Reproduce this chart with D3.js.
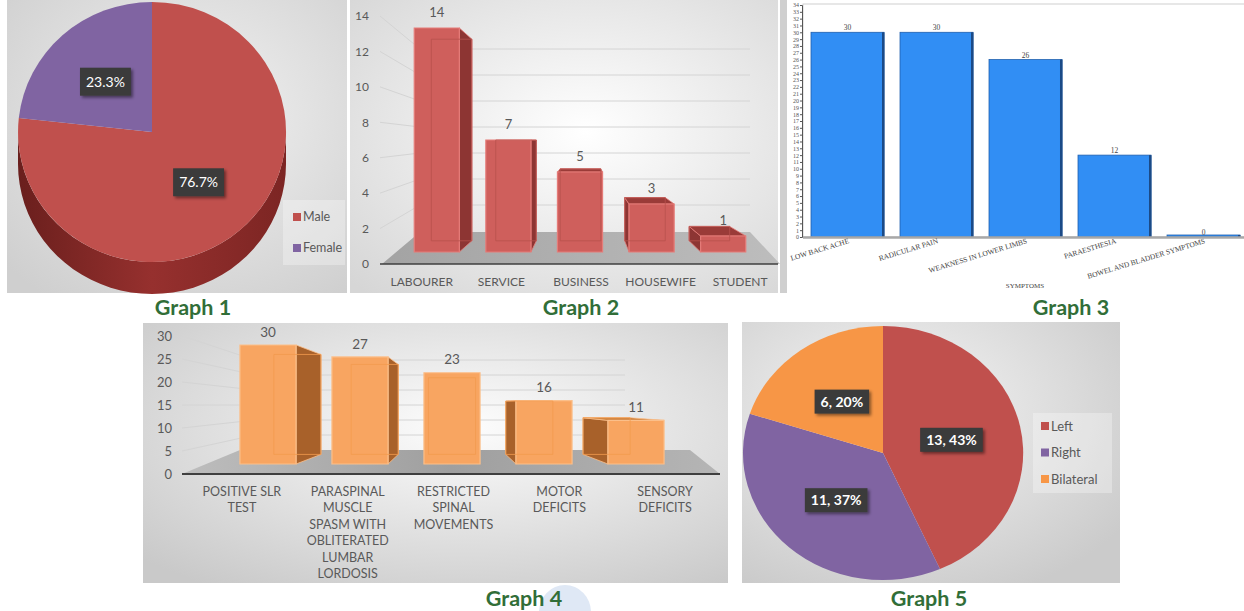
<!DOCTYPE html>
<html>
<head>
<meta charset="utf-8">
<script src="https://cdn.jsdelivr.net/npm/d3@7"></script>
<style>
    body { margin: 0; background: #fff; }
    svg { display: block; }
</style>
</head>
<body>
<script>
// graph 1 - sex
var sexLabels = ['Male', 'Female'],
    sexPercents = [76.7, 23.3];

// graph 2 - occupation
var occupations = ['LABOURER', 'SERVICE', 'BUSINESS', 'HOUSEWIFE', 'STUDENT'],
    occupationCounts = [14, 7, 5, 3, 1],
    occupationTicks = [0, 2, 4, 6, 8, 10, 12, 14];

// graph 3 - symptoms
var symptoms = ['LOW BACK ACHE', 'RADICULAR PAIN', 'WEAKNESS IN LOWER LIMBS', 'PARAESTHESIA', 'BOWEL AND BLADDER SYMPTOMS'],
    symptomCounts = [30, 30, 26, 12, 0],
    symptomTicks = [0, 1, 2, 3, 4, 5, 6, 7, 8, 9, 10, 11, 12, 13, 14, 15, 16, 17, 18, 19, 20,
                    21, 22, 23, 24, 25, 26, 27, 28, 29, 30, 31, 32, 33, 34];

// graph 4 - signs
var signs = ['POSITIVE SLR TEST', 'PARASPINAL MUSCLE SPASM WITH OBLITERATED LUMBAR LORDOSIS',
             'RESTRICTED SPINAL MOVEMENTS', 'MOTOR DEFICITS', 'SENSORY DEFICITS'],
    signLines = [['POSITIVE SLR', 'TEST'],
                 ['PARASPINAL', 'MUSCLE', 'SPASM WITH', 'OBLITERATED', 'LUMBAR', 'LORDOSIS'],
                 ['RESTRICTED', 'SPINAL', 'MOVEMENTS'],
                 ['MOTOR', 'DEFICITS'],
                 ['SENSORY', 'DEFICITS']],
    signCounts = [30, 27, 23, 16, 11],
    signTicks = [0, 5, 10, 15, 20, 25, 30];

// graph 5 - side
var sides = ['Left', 'Right', 'Bilateral'],
    sideCounts = [13, 11, 6],
    sidePercents = [43, 37, 20];

var FONT = 'Lato, "Open Sans", sans-serif',
    SERIF = '"Liberation Serif", "DejaVu Serif", serif',
    GREY = '#595959';

var svg = d3.select('body').append('svg').attr('width', 1244).attr('height', 611),
    defs = svg.append('defs');

function radial(id, cx, cy, inner, outer) {
    var g = defs.append('radialGradient').attr('id', id)
        .attr('cx', cx).attr('cy', cy).attr('r', '75%');
    g.append('stop').attr('offset', '0%').attr('stop-color', inner);
    g.append('stop').attr('offset', '100%').attr('stop-color', outer);
}
function linear(id, stops, x2, y2) {
    var g = defs.append('linearGradient').attr('id', id)
        .attr('x1', 0).attr('y1', 0).attr('x2', x2).attr('y2', y2);
    stops.forEach(function(s, i) {
        g.append('stop').attr('offset', (100*i/(stops.length-1))+'%').attr('stop-color', s);
    });
}
radial('bg1', '55%', '40%', '#f2f2f2', '#cfcfcf');
radial('bg2', '55%', '45%', '#ffffff', '#d6d6d6');
radial('bg4', '55%', '40%', '#fdfdfd', '#c9c9c9');
radial('bg5', '40%', '35%', '#f6f6f6', '#cbcbcb');
linear('side1', ['#6a1f1d', '#96302e', '#7c2523'], 1, 0);
linear('floor2', ['#a3a3a3', '#bdbdbd'], 1, 0);
linear('floor4', ['#bdbdbd', '#9f9f9f', '#b5b5b5'], 1, 0);

var shadow = defs.append('filter').attr('id', 'shadow')
    .attr('x', '-20%').attr('y', '-30%').attr('width', '150%').attr('height', '180%');
shadow.append('feDropShadow').attr('dx', 2).attr('dy', 2).attr('stdDeviation', 1.5)
    .attr('flood-color', '#000').attr('flood-opacity', 0.45);

// panel backgrounds
svg.append('rect').attr('x', 7).attr('y', 0).attr('width', 340).attr('height', 293).attr('fill', 'url(#bg1)');
svg.append('rect').attr('x', 350).attr('y', 0).attr('width', 428).attr('height', 293).attr('fill', 'url(#bg2)');
svg.append('rect').attr('x', 780).attr('y', 0).attr('width', 7).attr('height', 293).attr('fill', '#cfcfcf');
svg.append('rect').attr('x', 143).attr('y', 323).attr('width', 585).attr('height', 260).attr('fill', 'url(#bg4)');
svg.append('rect').attr('x', 742).attr('y', 322).attr('width', 378).attr('height', 261).attr('fill', 'url(#bg5)');
svg.append('ellipse').attr('cx', 565).attr('cy', 612).attr('rx', 26).attr('ry', 27).attr('fill', '#dfe8f5');

function caption(txt, x, y) {
    svg.append('text').attr('x', x).attr('y', y).attr('text-anchor', 'middle')
        .attr('font-family', FONT).attr('font-weight', 700).attr('font-size', 21.5)
        .attr('fill', '#316e38').text(txt);
}
caption('Graph 1', 193, 315);
caption('Graph 2', 581, 315);
caption('Graph 3', 1071, 315);
caption('Graph 4', 524, 606);
caption('Graph 5', 929, 606);

function darkLabel(g, x, y, txt, size, weight, h) {
    var lg = g.append('g').attr('transform', 'translate('+x+','+y+')'),
        r = lg.append('rect'),
        t = lg.append('text').attr('text-anchor', 'middle').attr('dy', '0.35em')
            .attr('font-family', FONT).attr('font-size', size).attr('font-weight', weight)
            .attr('fill', '#fff').text(txt),
        w = t.node().getComputedTextLength();
    r.attr('x', -w/2-6).attr('y', -h/2).attr('width', w+12).attr('height', h)
        .attr('fill', '#3a3a3a').attr('filter', 'url(#shadow)');
}

function legend(g, labels, color, x, y, gap, size, box) {
    g.append('rect').attr('x', box[0]).attr('y', box[1]).attr('width', box[2]).attr('height', box[3])
        .attr('fill', '#fff').attr('fill-opacity', 0.3);
    var items = g.selectAll('g.leg').data(labels).enter().append('g')
        .attr('transform', function(d, i) { return 'translate('+x+','+(y+i*gap)+')'; });
    items.append('rect').attr('x', 0).attr('y', -4).attr('width', 8).attr('height', 8)
        .attr('fill', function(d) { return color(d); });
    items.append('text').attr('x', 10).attr('dy', '0.35em')
        .attr('font-family', FONT).attr('font-size', size).attr('fill', GREY)
        .text(function(d) { return d; });
}

function ellipsePoint(c, a, f) {
    return [c.x + f*c.rx*Math.sin(a), c.y - f*c.ry*Math.cos(a)];
}

// ---------- graph 1: 3d pie ----------
(function() {
    var g = svg.append('g'),
        c = {x: 152, y: 132, rx: 134, ry: 130, depth: 32},
        color = d3.scaleOrdinal().domain(sexLabels).range(['#c0504d', '#8064a2']),
        arcs = d3.pie().sort(null).value(function(d) { return d; })(sexPercents),
        arc = d3.arc().innerRadius(0).outerRadius(1),
        sidePath = function(a0, a1) {
            var s = Math.max(a0, Math.PI/2),
                e = Math.min(a1, 3*Math.PI/2),
                top, bottom;
            if (e <= s) { return null; }
            top = d3.range(41).map(function(i) { return ellipsePoint(c, s+(e-s)*i/40, 1); });
            bottom = top.map(function(p) { return [p[0], p[1]+c.depth]; }).reverse();
            return 'M'+top.concat(bottom).map(function(p) { return p.join(','); }).join('L')+'Z';
        };

    g.selectAll('path.side').data(arcs).enter().append('path')
        .attr('d', function(d) { return sidePath(d.startAngle, d.endAngle); })
        .attr('fill', function(d, i) { return i === 0 ? 'url(#side1)' : '#4f3d66'; });

    g.append('g').attr('transform', 'translate('+c.x+','+c.y+') scale('+c.rx+','+c.ry+')')
        .selectAll('path').data(arcs).enter().append('path')
        .attr('d', arc)
        .attr('fill', function(d, i) { return color(sexLabels[i]); });

    arcs.forEach(function(d, i) {
        var p = ellipsePoint(c, (d.startAngle+d.endAngle)/2, 0.52);
        darkLabel(g, p[0], p[1], sexPercents[i]+'%', 14, 400, 28);
    });

    legend(g, sexLabels, color, 293, 217, 31, 12.5, [283, 200, 62, 65]);
})();

// ---------- 3d column helper ----------
function bars3d(g, o) {
    var bw = o.x.bandwidth(),
        proj = function(p) { return [p[0]+(o.vp[0]-p[0])*o.t, p[1]+(o.vp[1]-p[1])*o.t]; },
        poly = function(pts) { return 'M'+pts.map(function(p) { return p.join(','); }).join('L')+'Z'; },
        data = o.values.map(function(v, i) { return {cat: o.cats[i], value: v}; });

    g.selectAll('g.bar').data(data).enter().append('g').attr('class', 'bar')
        .each(function(d) {
            var b = d3.select(this),
                x0 = o.x(d.cat),
                x1 = x0+bw,
                yt = o.y(d.value),
                yb = o.y(0),
                f = [[x0, yt], [x1, yt], [x1, yb], [x0, yb]],
                k = f.map(proj);

            if (x1 < o.vp[0]) {
                b.append('path').attr('d', poly([f[1], k[1], k[2], f[2]]))
                    .attr('fill', o.side).attr('stroke', o.edge).attr('stroke-width', 0.8);
            } else if (x0 > o.vp[0]) {
                b.append('path').attr('d', poly([f[0], k[0], k[3], f[3]]))
                    .attr('fill', o.side).attr('stroke', o.edge).attr('stroke-width', 0.8);
            }
            if (yt > o.vp[1]) {
                b.append('path').attr('d', poly([f[0], f[1], k[1], k[0]]))
                    .attr('fill', o.top).attr('stroke', o.edge).attr('stroke-width', 0.8);
            }
            b.append('path').attr('d', poly(f))
                .attr('fill', o.front).attr('stroke', o.edge).attr('stroke-width', 1.2);
            // back edges showing through the transparent face
            b.append('path').attr('d', poly(k))
                .attr('fill', 'none').attr('stroke', o.inner).attr('stroke-width', 0.8);
        });

    g.selectAll('text.value').data(data).enter().append('text')
        .attr('x', function(d) { return o.x(d.cat)+bw/2; })
        .attr('y', function(d) { return o.y(d.value)-o.labelGap; })
        .attr('text-anchor', 'middle').attr('dy', '0.35em')
        .attr('font-family', FONT).attr('font-size', o.fontSize).attr('fill', GREY)
        .text(function(d) { return d.value; });
}

function wallLines(g, ticks, yAxis, yWall, xa, xb, xc) {
    g.selectAll('path.grid').data(ticks.slice(1)).enter().append('path')
        .attr('d', function(v) { return 'M'+xa+','+yAxis(v)+'L'+xb+','+yWall(v)+'L'+xc+','+yWall(v); })
        .attr('fill', 'none').attr('stroke', '#d4d4d4').attr('stroke-width', 1);
}

// ---------- graph 2: occupation ----------
(function() {
    var g = svg.append('g'),
        x = d3.scaleBand().domain(occupations).range([401, 759]).paddingInner(0.37).paddingOuter(0.185),
        xLabel = d3.scaleBand().domain(occupations).range([382, 780]),
        yFront = d3.scaleLinear().domain([0, 14]).range([252, 28]),
        yAxis = d3.scaleLinear().domain([0, 14]).range([264, 16]),
        yWall = d3.scaleLinear().domain([0, 14]).range([231, 49]);

    wallLines(g, occupationTicks, yAxis, yWall, 380, 420, 750);

    g.append('path').attr('d', 'M420,232L750,232L780,264L382,264Z').attr('fill', 'url(#floor2)');
    g.append('line').attr('x1', 380).attr('x2', 778).attr('y1', yAxis(0)).attr('y2', yAxis(0))
        .attr('stroke', '#3f3f3f').attr('stroke-width', 1.5);

    bars3d(g, {
        cats: occupations, values: occupationCounts, x: x, y: yFront,
        vp: [585, 140], t: 0.1,
        front: '#cf5f5c', side: '#8d3533', top: '#9a3b38', edge: '#e57c79', inner: '#b8504d',
        labelGap: 16, fontSize: 13
    });

    var ya = g.append('g').attr('transform', 'translate(372,0)')
        .call(d3.axisLeft(yAxis).tickValues(occupationTicks).tickSize(0).tickPadding(3));
    ya.select('.domain').remove();
    ya.attr('font-family', FONT).attr('font-size', 12).attr('color', GREY);

    var xa = g.append('g').attr('transform', 'translate(0,'+yAxis(0)+')')
        .call(d3.axisBottom(xLabel).tickSize(0).tickPadding(13));
    xa.select('.domain').remove();
    xa.attr('font-family', FONT).attr('font-size', 12).attr('color', GREY);
})();

// ---------- graph 3: symptoms ----------
(function() {
    var g = svg.append('g'),
        x = d3.scaleBand().domain(symptoms).range([803, 1248]).paddingInner(0.18).paddingOuter(0.09),
        y = d3.scaleLinear().domain([0, 34]).range([237, 5]),
        bw = x.bandwidth(),
        data = symptomCounts.map(function(v, i) { return {cat: symptoms[i], value: v}; });

    g.append('rect').attr('x', 803).attr('y', 4).attr('width', 450).attr('height', 233)
        .attr('fill', '#fff').attr('stroke', '#d0d0d0').attr('stroke-width', 1);

    var bars = g.selectAll('g.bar').data(data).enter().append('g');
    bars.append('rect')
        .attr('x', function(d) { return x(d.cat); })
        .attr('y', function(d) { return Math.min(y(d.value), y(0)-2); })
        .attr('width', bw)
        .attr('height', function(d) { return Math.max(y(0)-y(d.value), 2); })
        .attr('fill', '#318ef4').attr('stroke', '#1f5fae').attr('stroke-width', 0.8);
    bars.append('rect')
        .attr('x', function(d) { return x(d.cat)+bw-2; })
        .attr('y', function(d) { return Math.min(y(d.value), y(0)-2); })
        .attr('width', 2.5)
        .attr('height', function(d) { return Math.max(y(0)-y(d.value), 2); })
        .attr('fill', '#1b4a86');
    bars.append('text')
        .attr('x', function(d) { return x(d.cat)+bw/2; })
        .attr('y', function(d) { return y(d.value)-2; })
        .attr('text-anchor', 'middle').attr('font-family', SERIF).attr('font-size', 7.5)
        .attr('fill', '#444').text(function(d) { return d.value; });

    g.append('line').attr('x1', 803).attr('x2', 1244).attr('y1', y(0)+0.5).attr('y2', y(0)+0.5)
        .attr('stroke', '#a8a8a8').attr('stroke-width', 2.5);

    var ya = g.append('g').attr('transform', 'translate(802,0)')
        .call(d3.axisLeft(y).tickValues(symptomTicks).tickSize(2).tickPadding(1));
    ya.attr('font-family', SERIF).attr('font-size', 6).attr('color', '#555');

    g.selectAll('text.xl').data(symptoms).enter().append('text')
        .attr('transform', function(d) { return 'translate('+(x(d)+bw/2+2)+',243) rotate(-17)'; })
        .attr('text-anchor', 'end').attr('font-family', SERIF).attr('font-size', 7.4)
        .attr('fill', '#444').text(function(d) { return d; });

    g.append('text').attr('x', 1025).attr('y', 288).attr('text-anchor', 'middle')
        .attr('font-family', SERIF).attr('font-size', 7).attr('fill', '#444').text('SYMPTOMS');
})();

// ---------- graph 4: signs ----------
(function() {
    var g = svg.append('g'),
        x = d3.scaleBand().domain(signs).range([222, 682]).paddingInner(0.39).paddingOuter(0.195),
        xLabel = d3.scaleBand().domain(signs).range([189, 718]),
        yFront = d3.scaleLinear().domain([0, 30]).range([464, 345]),
        yAxis = d3.scaleLinear().domain([0, 30]).range([474, 336]),
        yWall = d3.scaleLinear().domain([0, 30]).range([450, 360]);

    wallLines(g, signTicks, yAxis, yWall, 182, 255, 625);

    g.append('path').attr('d', 'M240,450L690,450L720,474L182,474Z').attr('fill', 'url(#floor4)');
    g.append('line').attr('x1', 182).attr('x2', 720).attr('y1', yAxis(0)).attr('y2', yAxis(0))
        .attr('stroke', '#3f3f3f').attr('stroke-width', 2);

    bars3d(g, {
        cats: signs, values: signCounts, x: x, y: yFront,
        vp: [452, 404], t: 0.16,
        front: '#f8a561', side: '#a8612a', top: '#c7772f', edge: '#fbbf8a', inner: '#f29a4e',
        labelGap: 13, fontSize: 13.5
    });

    var ya = g.append('g').attr('transform', 'translate(175,0)')
        .call(d3.axisLeft(yAxis).tickValues(signTicks).tickSize(0).tickPadding(3));
    ya.select('.domain').remove();
    ya.attr('font-family', FONT).attr('font-size', 13).attr('color', GREY);

    g.selectAll('text.xl').data(signs).enter().append('text')
        .attr('x', function(d) { return xLabel(d)+xLabel.bandwidth()/2; })
        .attr('y', 496)
        .attr('text-anchor', 'middle').attr('font-family', FONT).attr('font-size', 12.5).attr('fill', GREY)
        .each(function(d, i) {
            var t = d3.select(this), cx = t.attr('x');
            signLines[i].forEach(function(line, j) {
                t.append('tspan').attr('x', cx).attr('dy', j ? 16.4 : 0).text(line);
            });
        });
})();

// ---------- graph 5: side pie ----------
(function() {
    var g = svg.append('g'),
        c = {x: 883, y: 453, rx: 140, ry: 127},
        color = d3.scaleOrdinal().domain(sides).range(['#c0504d', '#8064a2', '#f79646']),
        arcs = d3.pie().sort(null).value(function(d) { return d; })(sideCounts),
        arc = d3.arc().innerRadius(0).outerRadius(1);

    g.append('g').attr('transform', 'translate('+c.x+','+c.y+') scale('+c.rx+','+c.ry+')')
        .selectAll('path').data(arcs).enter().append('path')
        .attr('d', arc)
        .attr('fill', function(d, i) { return color(sides[i]); });

    arcs.forEach(function(d, i) {
        var p = ellipsePoint(c, (d.startAngle+d.endAngle)/2, 0.5);
        darkLabel(g, p[0], p[1], sideCounts[i]+', '+sidePercents[i]+'%', 14, 700, 24);
    });

    legend(g, sides, color, 1041, 426, 26.5, 13, [1033, 413, 79, 80]);
})();
</script>
</body>
</html>
